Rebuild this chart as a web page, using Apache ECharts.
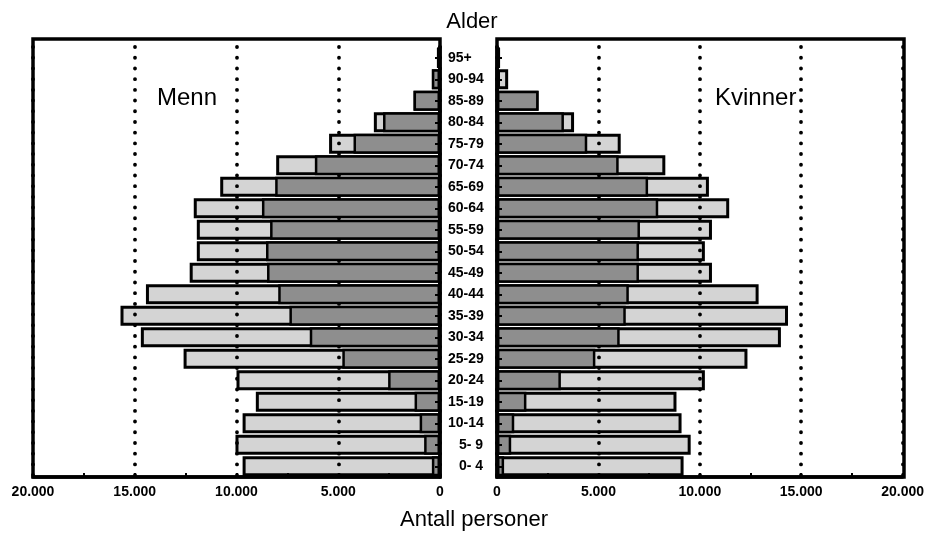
<!DOCTYPE html>
<html>
<head>
<meta charset="utf-8">
<script src="https://cdn.jsdelivr.net/npm/echarts@6/dist/echarts.min.js"></script>
<style>
html,body{margin:0;padding:0;background:#fff;}
#c{width:927px;height:533px;}
</style>
</head>
<body>
<div id="c"></div>
<script>
// ---- data ----
var ages = ['0- 4','5- 9','10-14','15-19','20-24','25-29','30-34','35-39','40-44','45-49','50-54','55-59','60-64','65-69','70-74','75-79','80-84','85-89','90-94','95+'];
var menTotal   = [9700, 10050, 9700, 9050, 10000, 12600, 14700, 15700, 14450, 12300, 11950, 11950, 12100, 10800, 8050, 5450, 3250, 1300, 400, 150];
var menDark    = [400, 780, 1000, 1250, 2550, 4800, 6400, 7400, 7950, 8500, 8550, 8350, 8750, 8100, 6150, 4250, 2800, 1300, 400, 150];
var womenTotal = [9200, 9550, 9100, 8850, 10250, 12350, 14000, 14350, 12900, 10600, 10250, 10600, 11450, 10450, 8300, 6100, 3800, 2050, 550, 150];
var womenDark  = [350, 700, 850, 1450, 3150, 4850, 6050, 6350, 6500, 7000, 7000, 7050, 7950, 7450, 6000, 4450, 3300, 2050, 0, 150];
var xTicks = [0, 5000, 10000, 15000, 20000];

// ---- layout ----
var FONT = '"Liberation Sans", Arial, Helvetica, sans-serif';
var L = {left: 33, right: 440}, R = {left: 497, right: 904};
var gridTop = 47, gridBottomY = 477, frameTop = 39;

function fmt(v){ return String(v).replace(/\B(?=(\d{3})+(?!\d))/g, '.'); }

function xAxisCfg(idx, inverse){
  return {
    type: 'value', gridIndex: idx, inverse: inverse,
    min: xTicks[0], max: xTicks[xTicks.length-1], interval: xTicks[1]-xTicks[0],
    axisLine: {show: true, lineStyle: {color: '#000', width: 3.5}},
    axisTick: {show: true, inside: true, length: 4, lineStyle: {color: '#000', width: 2}},
    minorTick: {show: true, splitNumber: 2, length: 4, lineStyle: {color: '#000', width: 2}},
    axisLabel: {formatter: fmt, color: '#000', fontFamily: FONT, fontWeight: 'bold', fontSize: 14, margin: 8,
      showMinLabel: true, showMaxLabel: true},
    splitLine: {show: true, lineStyle: {color: '#000', width: 3.8, type: [0.1, 10.6], cap: 'round'}}
  };
}
function yAxisCfg(idx, pos, showLabel){
  return {
    type: 'category', gridIndex: idx, data: ages, position: pos, z: 5,
    axisLine: {show: true, lineStyle: {color: '#000', width: 3.5}},
    axisTick: {show: true, inside: true, alignWithLabel: true, length: 5, lineStyle: {color: '#000', width: 2}},
    axisLabel: {show: showLabel, color: '#000', fontFamily: FONT, fontWeight: 'bold', fontSize: 14, margin: 8, align: 'left',
      formatter: function(v){ return /^\d-/.test(v) ? '{p|' + v + '}' : v; },
      rich: {p: {padding: [0,0,0,11], fontFamily: FONT, fontWeight: 'bold', fontSize: 14, color: '#000'}}},
    splitLine: {show: false}
  };
}
var lightStyle = {color: 'rgba(0,0,0,0.17)', borderColor: '#000', borderWidth: 3};
var darkStyle  = {color: '#8e8e8e', borderColor: '#000', borderWidth: 2.5};
function bars(idx, total, dark){
  return [
    {type: 'bar', xAxisIndex: idx, yAxisIndex: idx, data: total, barGap: '-100%', barCategoryGap: '6%', itemStyle: lightStyle, silent: true, z: 2},
    {type: 'bar', xAxisIndex: idx, yAxisIndex: idx, data: dark, barGap: '-100%', barCategoryGap: '6%', itemStyle: darkStyle, silent: true, z: 3}
  ];
}
function frame(p){
  return {type: 'rect', z: 10, silent: true,
    shape: {x: p.left, y: frameTop, width: p.right - p.left, height: gridBottomY - frameTop},
    style: {fill: 'none', stroke: '#000', lineWidth: 3.5}};
}

var chart = echarts.init(document.getElementById('c'), null, {renderer: 'canvas'});
chart.setOption({
  animation: false,
  backgroundColor: '#fff',
  textStyle: {fontFamily: FONT},
  title: [
    {text: 'Alder', left: 467, top: 6, textAlign: 'center', textStyle: {fontFamily: FONT, fontSize: 22, fontWeight: 'normal', color: '#000'}},
    {text: 'Antall personer', left: 469, top: 504, textAlign: 'center', textStyle: {fontFamily: FONT, fontSize: 22, fontWeight: 'normal', color: '#000'}},
    {text: 'Menn', left: 152, top: 81, textStyle: {fontFamily: FONT, fontSize: 24, fontWeight: 'normal', color: '#000'}},
    {text: 'Kvinner', left: 710, top: 81, textStyle: {fontFamily: FONT, fontSize: 24, fontWeight: 'normal', color: '#000'}}
  ],
  grid: [
    {left: L.left, right: 927 - L.right, top: gridTop, bottom: 533 - gridBottomY, containLabel: false},
    {left: R.left, right: 927 - R.right, top: gridTop, bottom: 533 - gridBottomY, containLabel: false}
  ],
  xAxis: [xAxisCfg(0, true), xAxisCfg(1, false)],
  yAxis: [yAxisCfg(0, 'right', true), yAxisCfg(1, 'left', false)],
  series: bars(0, menTotal, menDark).concat(bars(1, womenTotal, womenDark)),
  graphic: [frame(L), frame(R)]
});
</script>
</body>
</html>
